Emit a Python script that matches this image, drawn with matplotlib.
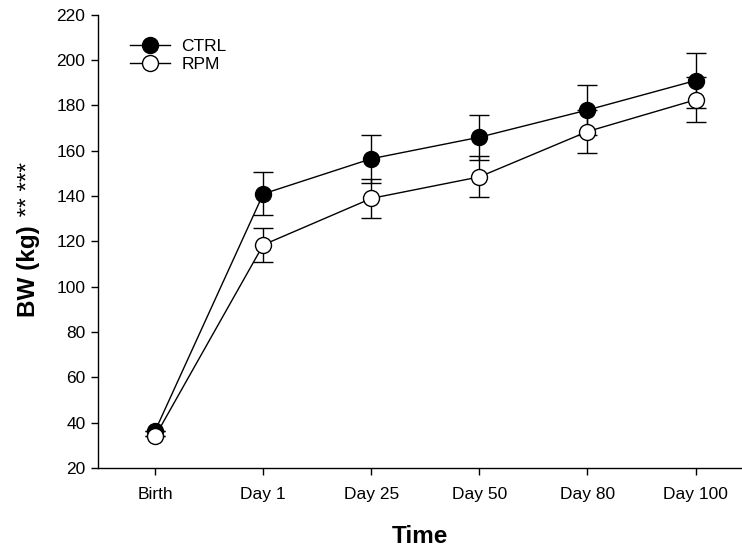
import matplotlib
matplotlib.use('Agg')
import matplotlib.pyplot as plt
import numpy as np

plt.rcParams['font.family'] = ['Liberation Sans', 'DejaVu Sans']

# data (birth error bars hidden by markers)
days = ['Birth', 'Day 1', 'Day 25', 'Day 50', 'Day 80', 'Day 100']
ctrl = [36.5, 141, 156.5, 166, 178, 191]
ctrl_err = [0, 9.5, 10.5, 10, 11, 12]
rpm = [34, 118.5, 139, 148.5, 168.5, 182.5]
rpm_err = [0, 7.5, 8.5, 9, 9.5, 10]

x = np.arange(len(days))

fig = plt.figure(figsize=(7.42, 5.5), dpi=100)
ax = fig.add_axes([0.132, 0.149, 0.868, 0.824])

# error bars
ax.errorbar(x, ctrl, yerr=ctrl_err, fmt='none', ecolor='black', elinewidth=1.0,
            capsize=7, capthick=1.0, zorder=2)
ax.errorbar(x, rpm, yerr=rpm_err, fmt='none', ecolor='black', elinewidth=1.0,
            capsize=7, capthick=1.0, zorder=2)

# lines with markers
ax.plot(x, ctrl, '-o', color='black', lw=1.0, ms=11.5, mfc='black', mec='black',
        mew=1.0, label='CTRL', zorder=3)
ax.plot(x, rpm, '-o', color='black', lw=1.0, ms=11.5, mfc='white', mec='black',
        mew=1.0, label='RPM', zorder=4)

ax.set_xlim(-0.53, 5.43)
ax.set_ylim(20, 220)
ax.set_yticks(np.arange(20, 221, 20))
ax.set_xticks(x)
ax.set_xticklabels(days)

for side in ['top', 'right']:
    ax.spines[side].set_visible(False)
for side in ['left', 'bottom']:
    ax.spines[side].set_linewidth(1.0)

ax.tick_params(axis='both', direction='out', length=5, width=1.0, labelsize=12.5)
ax.tick_params(axis='x', pad=9)
ax.tick_params(axis='y', pad=4)

ax.set_xlabel('Time', fontsize=17.5, fontweight='bold', labelpad=16)

leg = ax.legend(loc='upper left', bbox_to_anchor=(0.05, 0.946), frameon=False,
                fontsize=12.5, handlelength=2.3, handletextpad=0.65,
                labelspacing=0.15, borderpad=0, borderaxespad=0, markerscale=1.0)

# y label: bold part then regular asterisks on the same baseline
fig.canvas.draw()
renderer = fig.canvas.get_renderer()
t1 = fig.text(35 / 742, 1 - 317 / 550, 'BW (kg)', rotation=90, rotation_mode='anchor',
              ha='left', va='baseline', fontsize=17.5, fontweight='bold')
bb = t1.get_window_extent(renderer)
y_end = bb.y1 / fig.bbox.height
fig.text(35 / 742, y_end + 0.004, ' ** ***', rotation=90, rotation_mode='anchor',
         ha='left', va='baseline', fontsize=17.5)

fig.savefig('out.png', dpi=100)
